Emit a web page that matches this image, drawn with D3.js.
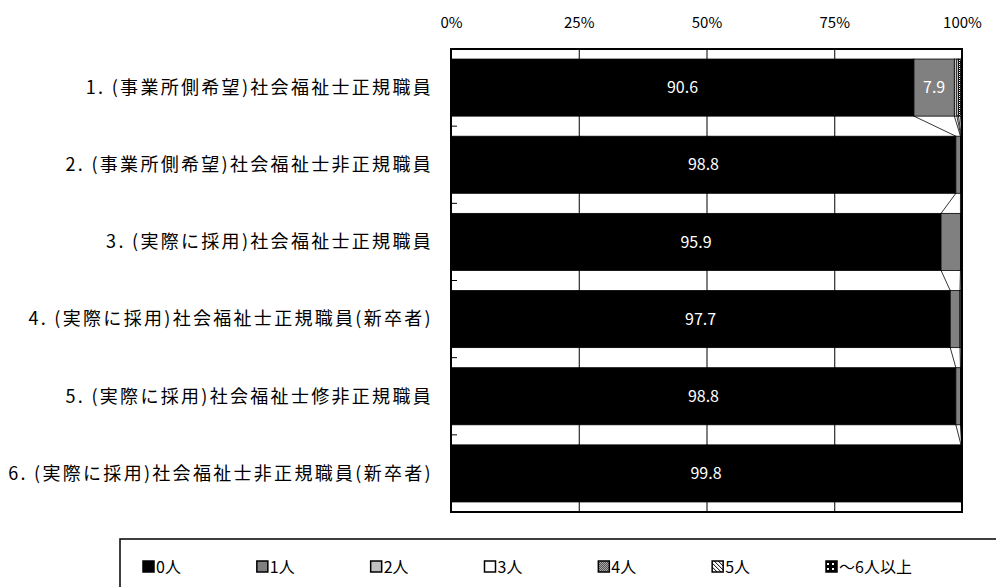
<!DOCTYPE html>
<html>
<head>
<meta charset="utf-8">
<script src="https://cdn.jsdelivr.net/npm/d3@7"></script>
<style>
  body { margin: 0; background: #fff; }
  svg { display: block; }
  text { font-family: "Noto Sans CJK JP", sans-serif; }
</style>
</head>
<body>
<svg id="chart" width="996" height="587"></svg>
<script>
const categories = [
  "1. (事業所側希望)社会福祉士正規職員",
  "2. (事業所側希望)社会福祉士非正規職員",
  "3. (実際に採用)社会福祉士正規職員",
  "4. (実際に採用)社会福祉士正規職員(新卒者)",
  "5. (実際に採用)社会福祉士修非正規職員",
  "6. (実際に採用)社会福祉士非正規職員(新卒者)"
];
const seriesNames = ["0人", "1人", "2人", "3人", "4人", "5人", "～6人以上"];
const zero = [90.6, 98.8, 95.9, 97.7, 98.8, 99.8];
const one = [7.9, 0.9, 3.8, 1.9, 0.9, 0.1];
const two = [0.5, 0.1, 0.1, 0.2, 0.1, 0.1];
const three = [0.3, 0.1, 0.1, 0.1, 0.1, 0.0];
const four = [0.4, 0.1, 0.1, 0.1, 0.1, 0.0];
const five = [0.2, 0.0, 0.0, 0.0, 0.0, 0.0];
const sixPlus = [0.1, 0.0, 0.0, 0.0, 0.0, 0.0];
const tickValues = [0, 25, 50, 75, 100];

const seriesValues = [zero, one, two, three, four, five, sixPlus];
const rows = categories.map((c, i) => {
  const row = { category: c };
  seriesNames.forEach((s, k) => (row[s] = seriesValues[k][i]));
  return row;
});

const svg = d3.select("#chart");
const margin = { top: 49, right: 34, bottom: 75, left: 451 };
const width = 996 - margin.left - margin.right;
const height = 587 - margin.top - margin.bottom;

// fills: plain greys plus a few Excel-like patterns
const defs = svg.append("defs");
const p4 = defs.append("pattern").attr("id", "p4").attr("width", 2).attr("height", 2)
  .attr("patternUnits", "userSpaceOnUse");
p4.append("rect").attr("width", 2).attr("height", 2).attr("fill", "#fff");
p4.append("rect").attr("width", 1).attr("height", 1).attr("fill", "#000");
p4.append("rect").attr("x", 1).attr("y", 1).attr("width", 1).attr("height", 1).attr("fill", "#000");
const p5 = defs.append("pattern").attr("id", "p5").attr("width", 4).attr("height", 4)
  .attr("patternUnits", "userSpaceOnUse");
p5.append("rect").attr("width", 4).attr("height", 4).attr("fill", "#fff");
p5.append("path").attr("d", "M0,0L4,4M-1,3L1,5M3,-1L5,1").attr("stroke", "#000").attr("stroke-width", 1);
const p6 = defs.append("pattern").attr("id", "p6").attr("width", 5).attr("height", 5)
  .attr("patternUnits", "userSpaceOnUse");
p6.append("rect").attr("width", 5).attr("height", 5).attr("fill", "#000");
p6.append("rect").attr("x", 1).attr("y", 1).attr("width", 2).attr("height", 2).attr("fill", "#fff");

const color = d3.scaleOrdinal()
  .domain(seriesNames)
  .range(["#000000", "#808080", "#c0c0c0", "#ffffff", "url(#p4)", "url(#p5)", "url(#p6)"]);

const x = d3.scaleLinear().domain([0, 100]).range([0, width]);
const y = d3.scaleBand().domain(categories).range([0, height])
  .paddingInner(0.26).paddingOuter(0.13);

const g = svg.append("g").attr("transform", `translate(${margin.left},${margin.top})`);

// gridlines
g.append("g")
  .call(d3.axisTop(x).tickValues([25, 50, 75]).tickSize(-height).tickFormat(""))
  .call((a) => a.select(".domain").remove())
  .selectAll("line").attr("stroke", "#000").attr("stroke-width", 1);

const stack = d3.stack().keys(seriesNames)(rows);

const layer = g.selectAll(".layer")
  .data(stack)
  .enter()
  .append("g")
  .attr("class", "layer")
  .attr("fill", (d) => color(d.key));

layer.selectAll("rect")
  .data((d) => d)
  .enter()
  .append("rect")
  .attr("x", (d) => x(d[0]))
  .attr("y", (d) => y(d.data.category))
  .attr("width", (d) => x(d[1]) - x(d[0]))
  .attr("height", y.bandwidth())
  .attr("stroke", "#000")
  .attr("stroke-width", (d) => (d[1] - d[0] > 0 ? 0.8 : 0));

// series lines between bars
const seriesLines = [];
stack.forEach((s) => {
  for (let i = 0; i < categories.length - 1; i++) {
    seriesLines.push({
      x1: x(s[i][1]),
      y1: y(categories[i]) + y.bandwidth(),
      x2: x(s[i + 1][1]),
      y2: y(categories[i + 1])
    });
  }
});
g.append("g")
  .selectAll("line")
  .data(seriesLines)
  .enter()
  .append("line")
  .attr("x1", (d) => d.x1)
  .attr("y1", (d) => d.y1)
  .attr("x2", (d) => d.x2)
  .attr("y2", (d) => d.y2)
  .attr("stroke", "#000")
  .attr("stroke-width", 0.8);

// data labels
const labels = [];
stack.forEach((s) => {
  s.forEach((d) => {
    if (d[1] - d[0] >= 5) labels.push(d);
  });
});
g.append("g")
  .selectAll("text")
  .data(labels)
  .enter()
  .append("text")
  .attr("x", (d) => x((d[0] + d[1]) / 2))
  .attr("y", (d) => y(d.data.category) + y.bandwidth() / 2)
  .attr("dy", "0.35em")
  .attr("text-anchor", "middle")
  .attr("fill", "#fff")
  .attr("font-size", 16)
  .text((d) => (d[1] - d[0]).toFixed(1));

// category ticks on the left edge (between bands)
const step = y.step();
const boundaries = categories.slice(1).map((c) => y(c) - (step - y.bandwidth()) / 2);
g.append("g")
  .selectAll("line")
  .data(boundaries)
  .enter()
  .append("line")
  .attr("x1", 0)
  .attr("x2", 6)
  .attr("y1", (d) => d)
  .attr("y2", (d) => d)
  .attr("stroke", "#000");

// category labels
g.append("g")
  .selectAll("text")
  .data(categories)
  .enter()
  .append("text")
  .attr("x", -18)
  .attr("y", (d) => y(d) + y.bandwidth() / 2)
  .attr("dy", "0.35em")
  .attr("text-anchor", "end")
  .attr("font-size", 18)
  .attr("letter-spacing", 2.3)
  .text((d) => d);

// top axis labels
g.append("g")
  .attr("transform", "translate(0,-18)")
  .call(d3.axisTop(x).tickValues(tickValues).tickSize(0).tickFormat((d) => d + "%"))
  .call((a) => a.select(".domain").remove())
  .selectAll("text")
  .attr("font-size", 15)
  .attr("font-family", "'Noto Sans CJK JP', sans-serif")
  .attr("fill", "#000");

// plot border
g.append("rect")
  .attr("width", width)
  .attr("height", height)
  .attr("fill", "none")
  .attr("stroke", "#000")
  .attr("stroke-width", 2);

// legend
const legend = svg.append("g");
legend.append("rect")
  .attr("x", 120)
  .attr("y", 539)
  .attr("width", 900)
  .attr("height", 80)
  .attr("fill", "none")
  .attr("stroke", "#000")
  .attr("stroke-width", 1.5);

const legendX = d3.scalePoint().domain(seriesNames).range([143, 826]);
const item = legend.selectAll(".item")
  .data(seriesNames)
  .enter()
  .append("g")
  .attr("class", "item")
  .attr("transform", (d) => `translate(${legendX(d)},567)`);
item.append("rect")
  .attr("x", 0)
  .attr("y", -6)
  .attr("width", 11)
  .attr("height", 11)
  .attr("fill", (d) => color(d))
  .attr("stroke", "#000")
  .attr("stroke-width", 1.5);
item.append("text")
  .attr("x", 13)
  .attr("y", 0)
  .attr("dy", "0.35em")
  .attr("font-size", 16)
  .text((d) => d);
</script>
</body>
</html>
